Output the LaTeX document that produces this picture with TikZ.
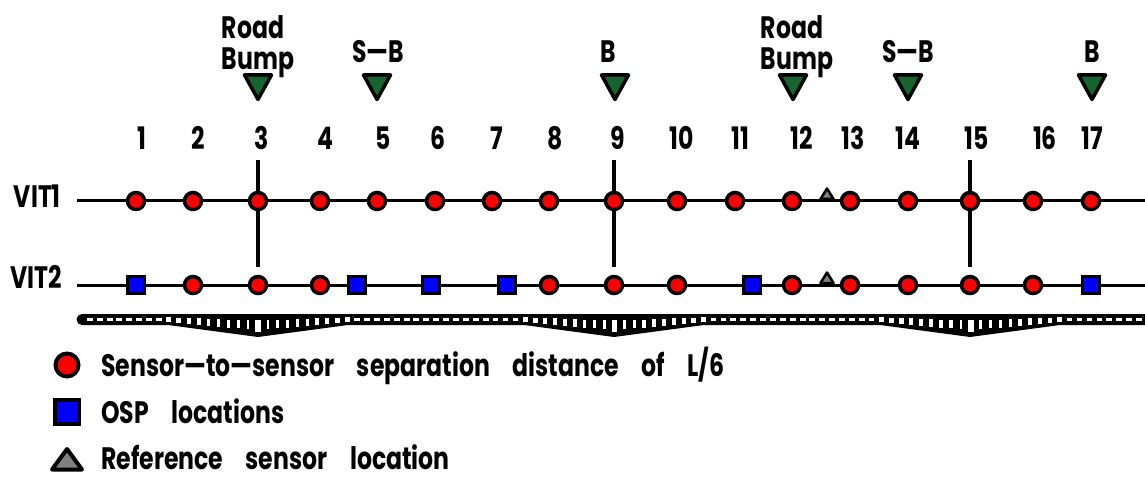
\documentclass[tikz,border=0pt]{standalone}
\usepackage{fontspec}
\newfontfamily\plotfont{Poppins}[FakeStretch=0.76]
\definecolor{bumpgreen}{RGB}{22,100,48}
\definecolor{refgray}{RGB}{128,128,128}
\begin{document}
\begin{tikzpicture}[x=1pt,y=-1pt,
  sensor/.style={circle,draw=black,line width=3.5pt,fill=red,inner sep=0pt,minimum size=17pt},
  osp/.style={rectangle,draw=black,line width=3pt,fill=blue,inner sep=0pt,minimum size=17pt},
  track/.style={line width=3pt},
  tie/.style={line width=3.5pt},
  bump/.style={draw=black,fill=bumpgreen,line width=3.5pt,line join=round},
  refmark/.style={draw=black,fill=refgray,line width=2.5pt,line join=round},
  lbl/.style={font=\plotfont\bfseries\fontsize{31pt}{33pt}\selectfont,inner sep=0pt,anchor=base},
  legtext/.style={font=\plotfont\bfseries\fontsize{31pt}{33pt}\selectfont,
    execute at begin node={\spaceskip=22.5pt\relax},inner sep=0pt,anchor=base west}
]
\useasboundingbox (0,0) rectangle (1145,478);

% ---- track lines and ties ----
\coordinate (v1w) at (77,201);  \coordinate (v1e) at (1145,201);
\coordinate (v2w) at (77,285);  \coordinate (v2e) at (1145,285);
\draw[track] (v1w) -- (v1e);
\draw[track] (v2w) -- (v2e);
\foreach \i/\x in {a/258,b/614,c/970}{
  \coordinate (t\i top) at (\x,160);
  \coordinate (t\i bot) at (\x,267);
  \draw[tie] (t\i top) -- (t\i bot);
}

% ---- sensors on VIT1 ----
\foreach \n/\x in {1/136,2/193,3/258,4/320,5/377,6/435,7/492,8/549,9/614,10/677,11/735,12/792,13/850,14/908,15/970,16/1033,17/1091}{
  \node[sensor] (a\n) at (\x,201) {};
}
% ---- sensors on VIT2 ----
\foreach \n/\x in {2/193,3/258,4/320,8/549,9/614,10/677,12/792,13/850,14/908,15/970,16/1033}{
  \node[sensor] (b\n) at (\x,285) {};
}
\foreach \n/\x in {1/136,5/357,6/431,7/507,11/752,17/1091}{
  \node[osp] (q\n) at (\x,285) {};
}

% ---- reference sensor marks ----
\filldraw[refmark] (820.5,199) -- (827,188.5) -- (833.5,199) -- cycle;
\filldraw[refmark] (820.5,283) -- (827,272.5) -- (833.5,283) -- cycle;

% ---- sensor numbers ----
\foreach \n/\x in {1/142,2/198,3/262,4/325,5/383,6/438,7/497,8/555,9/618,10/682,11/740,12/802,13/853,14/908,15/977,16/1045,17/1092}{
  \node[lbl] (n\n) at (\x,150) {\n};
}

% ---- load markers ----
\foreach \x in {258,377,615,793,908,1092}{
  \filldraw[bump] (\x-13.5,75) -- (\x+13.5,75) -- (\x,99.5) -- cycle;
}
\node[lbl] (rb1) at (253,39) {Road};
\node[lbl] (bp1) at (258,70) {Bump};
\node[lbl] (sb1) at (378,63) {S—B};
\node[lbl] (bb1) at (608,63) {B};
\node[lbl] (rb2) at (792,39) {Road};
\node[lbl] (bp2) at (797,70) {Bump};
\node[lbl] (sb2) at (908,63) {S—B};
\node[lbl] (bb2) at (1092,63) {B};

% ---- line labels ----
\node[lbl,anchor=base east] (vit1) at (61,208) {VIT1};
\node[lbl,anchor=base east] (vit2) at (62,288) {VIT2};

% ---- deck strip with supports ----
\fill (82,314) -- (1145,314) -- (1145,325) -- (1060,325) -- (970,337) -- (880,325)
  -- (704,325) -- (614,337) -- (524,325) -- (348,325) -- (258,337) -- (168,325)
  -- (82,325) arc[start angle=90,end angle=270,radius=5.5] -- cycle;
\foreach \k in {-17,...,89}{
  \pgfmathsetmacro\tkx{258+9.9*\k}
  \pgfmathsetmacro\tkd{min(abs(\tkx-258),abs(\tkx-614.4),abs(\tkx-970.8))}
  \pgfmathsetmacro\tkq{max(0,1-\tkd/130)}
  \pgfmathsetmacro\tkw{6-3.5*\tkq}
  \pgfmathsetmacro\tkh{2.2+7.5*\tkq}
  \pgfmathsetmacro\tkb{325+12*max(0,1-\tkd/90)}
  \pgfmathsetmacro\tkc{(314+\tkb)/2}
  \ifdim\tkd pt<2pt \def\tkw{5.5}\def\tkh{12}\fi
  \fill[white] (\tkx-\tkw/2,\tkc-\tkh/2) rectangle (\tkx+\tkw/2,\tkc+\tkh/2);
}

% ---- legend ----
\node[sensor,line width=4pt,minimum size=23pt] (lg1) at (67,365) {};
\node[osp,line width=4pt,minimum size=24pt] (lg2) at (67,411.5) {};
\filldraw[draw=black,fill=refgray,line width=4pt,line join=round] (52,469.5) -- (67,449) -- (82,469.5) -- cycle;
\node[legtext] (lt1) at (101,376) {Sensor—to—sensor separation distance of L/6};
\node[legtext] (lt2) at (101,423) {OSP locations};
\node[legtext] (lt3) at (101,469) {Reference sensor location};
\end{tikzpicture}
\end{document}
